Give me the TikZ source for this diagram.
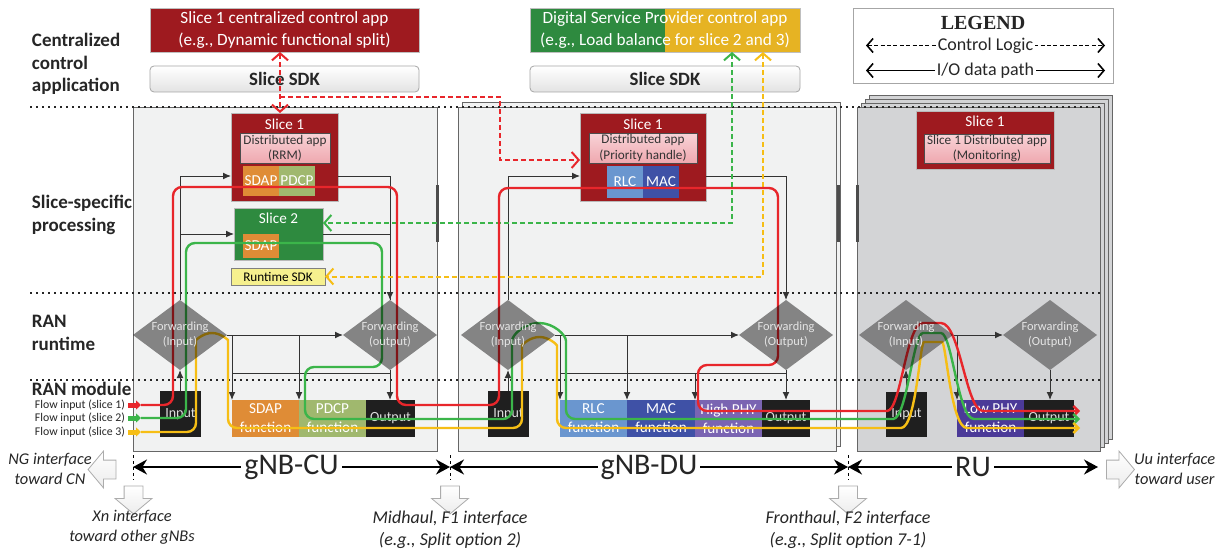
\documentclass[tikz,border=0pt]{standalone}
\usepackage{fontspec}
\setmainfont{Carlito}
\newfontfamily\legendfont{Liberation Serif}
\usetikzlibrary{arrows.meta,positioning,shapes.geometric,shapes.arrows,calc}

\definecolor{sliceRed}{HTML}{9E1A1F}
\definecolor{pinkTop}{HTML}{F8D3D7}
\definecolor{pinkBot}{HTML}{EFA8AF}
\definecolor{sdapOrange}{HTML}{DF8C36}
\definecolor{pdcpGreen}{HTML}{A0B86E}
\definecolor{sliceGreen}{HTML}{2E8A3F}
\definecolor{dspYellow}{HTML}{E6B323}
\definecolor{rtYellow}{HTML}{F6F08E}
\definecolor{rlcBlue}{HTML}{6A96CF}
\definecolor{macBlue}{HTML}{3F51A6}
\definecolor{hiPhy}{HTML}{7A64B2}
\definecolor{loPhy}{HTML}{4B3A98}
\definecolor{fwdGray}{HTML}{8C8C8C}
\definecolor{fwdGrayL}{HTML}{9C9C9C}
\definecolor{unitFill}{HTML}{F1F2F2}
\definecolor{ruFill}{HTML}{D3D4D6}
\definecolor{flowRed}{HTML}{E8262B}
\definecolor{flowGreen}{HTML}{3BB54A}
\definecolor{flowYellow}{HTML}{F6BE15}

\begin{document}
\begin{tikzpicture}[x=0.5pt, y=-0.5pt,
  every node/.style={inner sep=0pt, outer sep=0pt},
  appbox/.style={draw=gray!50, minimum width=134.5pt, minimum height=22pt, align=center, text=white, font=\fontsize{8.6}{11}\selectfont},
  sdkbox/.style={draw=gray!70, rounded corners=2pt, top color=white, bottom color=gray!22, minimum width=134.5pt, minimum height=13pt, font=\fontsize{9.4}{11}\selectfont\bfseries, text=black!85},
  unit/.style={draw=black!60, fill=#1, minimum height=172pt},
  slicebox/.style={draw=gray!55, fill=#1},
  stitle/.style={text=white, font=\fontsize{7.6}{9}\selectfont},
  dapp/.style={draw=gray!60!black, top color=pinkTop, bottom color=pinkBot, minimum height=15pt, align=center, text=black!80, font=\fontsize{6.6}{7.6}\selectfont},
  sub/.style={fill=#1, text=white, minimum width=18pt, minimum height=15pt, font=\fontsize{7.6}{9}\selectfont},
  func/.style={fill=#1, minimum width=33.5pt, minimum height=18.5pt, align=center, text=white, font=\fontsize{7.6}{9.5}\selectfont},
  blk/.style={fill=black!88, text=black!12, minimum height=18.5pt, font=\fontsize{7}{8}\selectfont},
  fwd/.style={diamond, minimum width=47pt, minimum height=35pt},
  fwdtxt/.style={align=center, text=white!90!black, font=\fontsize{6.2}{7.5}\selectfont},
  wire/.style={draw=black!80, line width=0.5pt},
  wirearr/.style={wire, -{Latex[length=4pt,width=3.4pt]}},
  flow/.style={line width=1.2pt, rounded corners=4.5pt},
  flowend/.style={-{Straight Barb[length=2.5pt,width=5pt]}},
  flowin/.style={line width=2.5pt, -{Triangle[length=2.5pt,width=4.5pt]}},
  flowlbl/.style={anchor=east, text=black!85, font=\fontsize{5.9}{6.8}\selectfont},
  ctrl/.style={line width=1pt, dash pattern=on 2.5pt off 1.5pt},
  barb/.style={-{Straight Barb[length=3.5pt,width=8pt]}},
  barbs/.style={{Straight Barb[length=3.5pt,width=8pt]}-{Straight Barb[length=3.5pt,width=8pt]}},
  sepline/.style={line width=0.9pt, dash pattern=on 0.9pt off 2.1pt, black!85},
  sidelbl/.style={anchor=west, align=left, text=black!85, font=\fontsize{9.5}{11.3}\selectfont\bfseries},
  dimline/.style={line width=1pt, {Stealth[length=7pt,width=7.5pt]}-{Stealth[length=7pt,width=7.5pt]}},
  dimlbl/.style={fill=white, inner xsep=1.5pt, text=black!85, font=\fontsize{15}{16}\selectfont},
  tickline/.style={line width=0.5pt, dash pattern=on 1.5pt off 1.5pt},
  iface/.style={single arrow, draw=gray!65, top color=white, bottom color=gray!15, minimum height=14pt, minimum width=18pt, inner xsep=1pt, inner ysep=4.5pt, single arrow head extend=4.5pt, single arrow tip angle=100},
  ital/.style={align=center, text=black!85, font=\fontsize{9}{11}\selectfont\itshape},
  itals/.style={ital, font=\fontsize{8.2}{10}\selectfont\itshape},
  edgebar/.style={line width=1.5pt, black!70},
  lgline/.style={line width=0.8pt, {Straight Barb[length=3pt,width=7pt]}-{Straight Barb[length=3pt,width=7pt]}},
  lgtxt/.style={fill=white, inner xsep=1pt, text=black!85, font=\fontsize{9}{11}\selectfont}
]
\useasboundingbox (0,0) rectangle (1225,556);
\fill[white] (0,0) rectangle (1225,556);

\foreach \k in {3,2,1}
  \node[unit=ruFill, minimum width=121.5pt] (ruL\k) at (978.5+4*\k,279-4*\k) {};
\node[unit=ruFill, minimum width=121.5pt] (ru) at (978.5,279) {};
\node[unit=unitFill, minimum width=189pt] (duL) at (651,274) {};
\node[unit=unitFill, minimum width=189pt] (du) at (647,279) {};
\node[unit=unitFill, minimum width=152pt] (cu) at (285,279) {};

\foreach \y in {107,293,380}
  \draw[sepline] (30,\y) -- (1100,\y);
\draw[edgebar] (437,185) -- (437,242);
\draw[edgebar] (838,185) -- (838,242);
\draw[edgebar] (857,185) -- (857,242);

\node[appbox, fill=sliceRed] (ctrlA) at (284.5,30) {Slice 1 centralized control app\\(e.g., Dynamic functional split)};
\node[sdkbox] (sdkA) at (284.5,79) {Slice SDK};
\node[appbox, minimum width=135pt, fill=dspYellow, path picture={\fill[sliceGreen] (path picture bounding box.south west) rectangle (path picture bounding box.north);}] (ctrlB) at (665,30) {Digital Service Provider control app\\(e.g., Load balance for slice 2 and 3)};
\node[sdkbox, minimum width=135pt] (sdkB) at (665,79) {Slice SDK};

\node[draw=gray!70, fill=white, minimum width=130pt, minimum height=37.5pt] (legend) at (983,45.5) {};
\node[text=black!85, font=\legendfont\fontsize{10}{12}\selectfont\bfseries] (lgTitle) at (983,23) {LEGEND};
\draw[lgline, dash pattern=on 2pt off 1.2pt] ([xshift=6.5pt]legend.west) -- ([xshift=-4pt]legend.east) node[lgtxt, midway] (lgCtrl) {Control Logic};
\draw[lgline] ([xshift=6.5pt,yshift=-12.5pt]legend.west) -- ([xshift=-4pt,yshift=-12.5pt]legend.east) node[lgtxt, midway] (lgIO) {I/O data path};

\node[sidelbl] (cLbl) at (32,64) {Centralized\\control\\application};
\node[sidelbl] (pLbl) at (32,215) {Slice-specific\\processing};
\node[sidelbl] (rLbl) at (32,333) {RAN\\runtime};
\node[sidelbl] (mLbl) at (32,389) {RAN module};

% gNB-CU
\node[slicebox=sliceRed, minimum width=53.5pt, minimum height=44pt] (s1cu) at (284.5,157) {};
\node[stitle] (s1cuT) at ([yshift=-5.5pt]s1cu.north) {Slice 1};
\node[dapp, minimum width=45pt] (appCU) at (285,148) {Distributed app\\(RRM)};
\node[sub=sdapOrange] (sdapA) at (261,181) {SDAP};
\node[sub=pdcpGreen] (pdcpA) at (297,181) {PDCP};
\node[slicebox=sliceGreen, minimum width=44.5pt, minimum height=26pt] (s2cu) at (278.5,234) {};
\node[stitle] (s2cuT) at ([yshift=-5pt]s2cu.north) {Slice 2};
\node[sub=sdapOrange, minimum height=12pt] (sdapB) at (261,246) {SDAP};
\node[draw=black!50, fill=rtYellow, minimum width=47pt, minimum height=8.5pt, font=\fontsize{6.6}{8}\selectfont] (rtsdk) at (278,276.5) {Runtime SDK};
\node[fwd] (fiA) at (180,335) {};
\node[fwd] (foA) at (390,335) {};
\node[blk, minimum width=20.5pt, minimum height=23pt] (inA) at (180.5,414) {Input};
\node[func=sdapOrange] (sdapF) at (265.5,418.5) {SDAP\\function};
\node[func=pdcpGreen] (pdcpF) at (332.5,418.5) {PDCP\\function};
\node[blk, minimum width=24.5pt] (outA) at (390.5,418.5) {Output};

% gNB-DU
\node[slicebox=sliceRed, minimum width=63pt, minimum height=44pt] (s1du) at (643,157) {};
\node[stitle] (s1duT) at ([yshift=-5.5pt]s1du.north) {Slice 1};
\node[dapp, minimum width=54pt] (appDU) at (643,148) {Distributed app\\(Priority handle)};
\node[sub=rlcBlue, minimum height=16pt] (rlcA) at (625,182) {RLC};
\node[sub=macBlue, minimum height=16pt] (macA) at (661,182) {MAC};
\node[fwd] (fiB) at (508,335) {};
\node[fwd] (foB) at (786,335) {};
\node[blk, minimum width=20.5pt, minimum height=23pt] (inB) at (508.5,414) {Input};
\node[func=rlcBlue] (rlcF) at (593.5,418.5) {RLC\\function};
\node[func=macBlue, minimum width=34pt] (macF) at (661,418.5) {MAC\\function};
\node[func=hiPhy] (hphyF) at (728.5,418.5) {High PHY\\function};
\node[blk, minimum width=24pt] (outB) at (786,418.5) {Output};

% RU
\node[slicebox=sliceRed, minimum width=69pt, minimum height=29pt] (s1ru) at (985,140) {};
\node[stitle] (s1ruT) at ([yshift=-5pt]s1ru.north) {Slice 1};
\node[dapp, minimum width=63pt, minimum height=14.5pt] (appRU) at (987,148.5) {Slice 1 Distributed app\\(Monitoring)};
\node[fwd] (fiC) at (906,335) {};
\node[fwd] (foC) at (1050,335) {};
\node[blk, minimum width=20.5pt, minimum height=22.5pt] (inC) at (906.5,414.5) {Input};
\node[func=loPhy] (lphyF) at (990.5,418.5) {Low PHY\\function};
\node[blk, minimum width=25pt] (outC) at (1049,418.5) {Output};

\draw[wirearr] (fiA.north) |- ([yshift=-9.5pt]s1cu.west);
\draw[wirearr] (fiA.north |- s2cu.west) -- (s2cu.west);
\draw[wirearr] ([yshift=-9.5pt]s1cu.east) -| (foA.north);
\draw[wire] (s2cu.east) -| (foA.north);
\draw[wirearr] (inA.north -| fiA.south) -- (fiA.south);
\draw[wirearr] (fiA.east) -- (foA.west);
\draw[wirearr] (sdapF.north west |- fiA.east) -- (sdapF.north west);
\draw[wirearr] (pdcpF.north west |- fiA.east) -- (pdcpF.north west);
\coordinate (busA) at ([yshift=-1.5pt]foA.south);
\draw[wire] (sdapF.north west |- busA) -- (busA);
\draw[wirearr] (foA.south) -- (foA.south |- outA.north);

\draw[wirearr] (fiB.north) |- ([yshift=-9.5pt]s1du.west);
\draw[wirearr] ([yshift=-9.5pt]s1du.east) -| (foB.north);
\draw[wirearr] (inB.north -| fiB.south) -- (fiB.south);
\draw[wirearr] (fiB.east) -- (foB.west);
\draw[wirearr] (rlcF.north west |- fiB.east) -- (rlcF.north west);
\draw[wirearr] (macF.north west |- fiB.east) -- (macF.north west);
\coordinate (busB) at ([yshift=-1.5pt]foB.south);
\draw[wire] (rlcF.north west |- busB) -- (busB);
\draw[wirearr] (hphyF.north west |- busB) -- (hphyF.north west);
\draw[wirearr] (foB.south) -- (foB.south |- outB.north);

\draw[wirearr] (inC.north -| fiC.south) -- (fiC.south);
\draw[wirearr] (fiC.east) -- (foC.west);
\draw[wirearr] (lphyF.north west |- fiC.east) -- (lphyF.north west);
\draw[wirearr] (foC.south) -- (foC.south |- outC.north);

% control logic
\draw[ctrl, barbs, flowRed] ([xshift=-2.25pt]ctrlA.south) -- ([xshift=-2.25pt]s1cu.north);
\coordinate (redFork) at ([xshift=-2.25pt,yshift=-22.5pt]ctrlA.south);
\draw[ctrl, barb, flowRed] (redFork) -| ([xshift=-40pt,yshift=-1.5pt]s1du.west) -- ([yshift=-1.5pt]s1du.west);
\draw[ctrl, barbs, flowGreen] ([xshift=33.5pt]ctrlB.south) |- ([yshift=5.5pt]s2cu.east);
\draw[ctrl, barbs, flowYellow] ([xshift=49pt]ctrlB.south) |- (rtsdk.east);

% data flows
\coordinate (f1) at (128,405); \coordinate (f1e) at (141,405);
\coordinate (f2) at (128,418); \coordinate (f2e) at (141,418);
\coordinate (f3) at (128,432); \coordinate (f3e) at (141,432);
\draw[flow, flowend, flowRed] (f1e) -- (173,405) -- (173,187) -- (397,187) -- (397,405) -- (499,405) -- (499,188) -- (778,188) -- (778,365) -- (698,365) -- (698,411) -- (878,411) .. controls (901,411) and (906,323) .. (932,323) .. controls (960,323) and (966,411) .. (992,411) -- (1080,411);
\draw[flow, flowend, flowGreen] (f2e) -- (186,418) -- (186,243) -- (382,243) -- (382,367) -- (305,367) -- (305,419) -- (512,419) -- (512,350) arc[start angle=180, end angle=0, radius=13.5pt] -- (566,419) -- (884,419) .. controls (907,419) and (913,333) .. (932,333) .. controls (952,333) and (958,419) .. (983,419) -- (1080,419);
\draw[flow, flowend, flowYellow] (f3e) -- (196,432) -- (196,349) arc[start angle=180, end angle=0, radius=8pt] -- (228,428) -- (522,428) -- (522,354.5) arc[start angle=180, end angle=0, radius=8.75pt] -- (557,428) -- (892,428) .. controls (916,428) and (920,342) .. (933,342) .. controls (946,342) and (951,428) .. (976,428) -- (1080,428);

\begin{scope}[blend mode=multiply]
\foreach \d/\c in {fiA/fwdGray, foA/fwdGray, fiB/fwdGray, foB/fwdGray, fiC/fwdGrayL, foC/fwdGrayL}
  \fill[\c] (\d.north) -- (\d.east) -- (\d.south) -- (\d.west) -- cycle;
\end{scope}
\node[fwdtxt] (fiAt) at (fiA) {Forwarding\\(Input)};
\node[fwdtxt] (foAt) at (foA) {Forwarding\\(output)};
\node[fwdtxt] (fiBt) at (fiB) {Forwarding\\(Input)};
\node[fwdtxt] (foBt) at (foB) {Forwarding\\(Output)};
\node[fwdtxt] (fiCt) at (fiC) {Forwarding\\(Input)};
\node[fwdtxt] (foCt) at (foC) {Forwarding\\(Output)};

\draw[flowin, flowRed] (f1) -- (f1e);
\draw[flowin, flowGreen] (f2) -- (f2e);
\draw[flowin, flowYellow] (f3) -- (f3e);
\node[flowlbl] (fl1) at ([xshift=-1.5pt]f1) {Flow input (slice 1)};
\node[flowlbl] (fl2) at ([xshift=-1.5pt]f2) {Flow input (slice 2)};
\node[flowlbl] (fl3) at ([xshift=-1.5pt]f3) {Flow input (slice 3)};

% interfaces
\coordinate (b0) at (133,467); \coordinate (b1) at (450,467);
\coordinate (b2) at (848,467); \coordinate (b3) at (1098,467);
\draw[dimline] (b0) -- (b1) node[dimlbl, midway] (cuTag) {gNB-CU};
\draw[dimline] (b1) -- (b2) node[dimlbl, midway] (duTag) {gNB-DU};
\draw[dimline] (b2) -- (b3) node[dimlbl, midway] (ruTag) {RU};
\foreach \b in {b0,b1,b2}
  \draw[tickline] ([yshift=6pt]\b) -- ([yshift=-6.5pt]\b);

\node[iface, rotate=180] (ngArr) at (106,469.5) {};
\node[iface, rotate=-90] (xnArr) at (133.5,496) {};
\node[iface, rotate=-90] (f1Arr) at (450,496) {};
\node[iface, rotate=-90] (f2Arr) at (848,496) {};
\node[iface] (uuArr) at (1116.5,469.5) {};
\node[itals] (ngLbl) at (50,469) {NG interface\\toward CN};
\node[itals] (xnLbl) at (132,527) {Xn interface\\toward other gNBs};
\node[ital] (f1Lbl) at (450,530) {Midhaul, F1 interface\\(e.g., Split option 2)};
\node[ital] (f2Lbl) at (848,530) {Fronthaul, F2 interface\\(e.g., Split option 7-1)};
\node[itals, anchor=west] (uuLbl) at (1134,469) {Uu interface\\toward user};
\end{tikzpicture}
\end{document}
